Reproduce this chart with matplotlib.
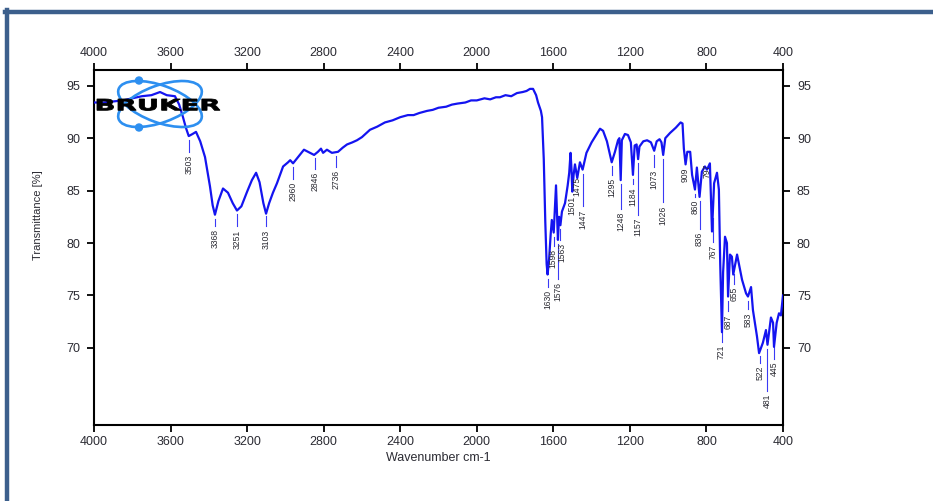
import matplotlib

matplotlib.use("Agg")
import matplotlib.pyplot as plt
import numpy as np
from matplotlib.font_manager import FontProperties
from matplotlib.lines import Line2D
from matplotlib.patches import Ellipse, PathPatch, Circle
from matplotlib.textpath import TextPath
from matplotlib.transforms import Affine2D

# spectrum (wavenumber cm-1, transmittance %)
wavenumber = [
    4000, 3950, 3900, 3850, 3800, 3750, 3700, 3655, 3620, 3577, 3555, 3535,
    3520, 3505, 3485, 3467, 3445, 3420, 3394, 3380, 3368, 3350, 3326, 3300,
    3275, 3253, 3230, 3200, 3175, 3153, 3135, 3115, 3101, 3085, 3065, 3044,
    3012, 2986, 2975, 2960, 2934, 2903, 2882, 2850, 2830, 2814, 2803, 2783,
    2757, 2725, 2700, 2678, 2650, 2626, 2600, 2558, 2520, 2480, 2440, 2400,
    2360, 2330, 2300, 2260, 2230, 2200, 2160, 2130, 2100, 2060, 2030, 2000,
    1960, 1930, 1900, 1879, 1850, 1820, 1790, 1760, 1740, 1722, 1706, 1690,
    1680, 1665, 1659, 1650, 1642, 1635, 1630, 1622, 1614, 1608, 1598, 1590,
    1586, 1580, 1576, 1570, 1563, 1555, 1539, 1525, 1517, 1510, 1505, 1501,
    1494, 1487, 1475, 1461, 1447, 1427, 1400, 1370, 1356, 1340, 1320, 1305,
    1295, 1278, 1262, 1255, 1248, 1242, 1226, 1210, 1195, 1184, 1175, 1165,
    1157, 1150, 1130, 1110, 1090, 1073, 1060, 1045, 1035, 1026, 1015, 990,
    960, 935, 925, 918, 909, 900, 885, 875, 860, 850, 836, 824, 808, 797,
    782, 771, 760, 745, 735, 728, 719, 713, 703, 693, 687, 677, 667, 660,
    640, 614, 593, 583, 567, 557, 536, 525, 505, 489, 481, 463, 452, 447,
    433, 421, 411, 400,
]
transmittance = [
    93.4, 93.4, 93.5, 93.6, 93.8, 94.0, 94.1, 94.4, 94.1, 94.0, 93.2, 92.0,
    91.0, 90.2, 90.4, 90.6, 89.7, 88.2, 85.4, 83.6, 82.7, 84.0, 85.2, 84.8,
    83.8, 83.1, 83.5, 84.9, 86.0, 86.7, 85.8, 83.8, 82.8, 83.8, 84.8, 85.7,
    87.3, 87.7, 87.9, 87.6, 88.2, 88.9, 88.7, 88.4, 88.7, 89.0, 88.6, 88.9,
    88.6, 88.7, 89.1, 89.4, 89.6, 89.8, 90.1, 90.8, 91.1, 91.5, 91.7, 92.0,
    92.2, 92.2, 92.4, 92.6, 92.7, 92.9, 93.0, 93.2, 93.3, 93.4, 93.6, 93.6,
    93.8, 93.7, 93.9, 93.9, 94.1, 94.0, 94.3, 94.4, 94.5, 94.7, 94.7, 94.1,
    93.4, 92.6, 92.0, 88.0, 82.0, 78.0, 77.0, 78.5, 80.8, 82.2, 81.0, 84.0,
    85.5, 82.5, 80.3, 82.5, 81.7, 83.0, 83.8, 85.5, 86.7, 88.6, 87.0, 84.9,
    86.5, 87.5, 86.2, 87.7, 87.0, 88.6, 89.6, 90.5, 90.9, 90.7, 89.7, 88.5,
    87.7, 88.7, 89.8, 90.0, 86.0, 89.8, 90.4, 90.3, 89.6, 86.5, 89.3, 89.4,
    88.0, 89.2, 89.7, 89.8, 89.6, 88.8, 89.7, 89.9, 89.6, 88.4, 90.0, 90.5,
    91.0, 91.5, 91.4, 89.0, 87.5, 88.7, 88.7, 86.5, 85.1, 87.2, 84.4, 86.8,
    87.3, 87.0, 87.6, 81.1, 85.7, 86.7, 85.1, 78.0, 71.5, 77.2, 80.6, 80.0,
    74.9, 78.9, 78.7, 77.0, 78.9, 76.5, 75.2, 74.9, 75.8, 73.6, 71.1, 69.5,
    70.5, 71.7, 70.3, 72.9, 72.4, 70.1, 72.4, 73.3, 73.1, 75.0,
]

# picked peaks
peak_wn = [
    3503, 3368, 3251, 3103, 2960, 2846, 2736, 1630, 1598, 1576, 1563, 1501,
    1475, 1447, 1295, 1248, 1184, 1157, 1073, 1026, 909, 860, 836, 797, 767,
    721, 687, 655, 583, 522, 481, 445,
]
# where each peak label starts (top of text), in % units - layout only
label_top = [
    88.4, 81.3, 81.3, 81.3, 85.8, 86.8, 87.0, 75.5, 79.4, 76.3, 80.0, 84.5,
    86.3, 83.2, 86.2, 83.0, 85.3, 82.4, 87.0, 83.6, 87.2, 84.1, 81.1, 87.6,
    79.8, 70.3, 73.2, 75.8, 73.4, 68.3, 65.6, 68.7,
]
# labels pushed sideways so the crowded ones stay readable (cm-1)
label_nudge = {1598: 6, 1563: -6}

W, H = 933, 501
FONT = ["Liberation Sans Narrow", "Liberation Sans", "DejaVu Sans"]
TEXT_COLOR = "#2b2b33"


def draw_logo(fig):
    # two crossing orbits and the BRUKER wordmark, drawn in pixel units
    to_fig = Affine2D().scale(1 / W, 1 / H) + fig.transFigure
    cx, cy = 160, H - 104
    blue = "#2d8ff0"
    for angle in (20, -20):
        fig.patches.append(
            Ellipse((cx, cy), 88, 37, angle=angle, fill=False,
                    edgecolor=blue, linewidth=1.9, transform=to_fig, zorder=5)
        )
    for dy in (23.5, -23.5):
        fig.patches.append(
            Circle((139, cy + dy), 3.5, color=blue, transform=to_fig, zorder=6)
        )

    tp = TextPath((0, 0), "BRUKER", size=1,
                  prop=FontProperties(family="DejaVu Sans", weight="heavy"))
    bb = tp.get_extents()
    sx = (220 - 97) / bb.width
    sy = 11.5 / bb.height
    word = (Affine2D().translate(-bb.x0, -bb.y0).scale(sx, sy)
            .translate(97, H - 110.5))
    fig.patches.append(
        PathPatch(tp, facecolor="black", edgecolor="black", linewidth=0.6,
                  transform=word + to_fig, zorder=7)
    )


def draw_frame(fig):
    color = "#3c5f8c"
    fig.add_artist(Line2D([5 / W, 1], [1 - 12 / H, 1 - 12 / H],
                          color=color, linewidth=3.2, transform=fig.transFigure))
    fig.add_artist(Line2D([7 / W, 7 / W], [0, 1 - 10 / H],
                          color=color, linewidth=3.2, transform=fig.transFigure))


def main():
    plt.rcParams["font.family"] = FONT
    fig = plt.figure(figsize=(W / 100, H / 100), dpi=100)
    ax = fig.add_axes([94 / W, 1 - 425 / H, (783 - 94) / W, (425 - 70) / H])

    ax.plot(wavenumber, transmittance, color="#1414f0", linewidth=1.6, zorder=3)

    # peak markers: short line under the curve and the rotated label
    px_per_unit = 10.48
    for wn, top in zip(peak_wn, label_top):
        curve_t = np.interp(wn, wavenumber[::-1], transmittance[::-1])
        start = curve_t - 4 / px_per_unit
        end = top + 3 / px_per_unit
        if start > end:
            ax.plot([wn, wn], [start, end], color="#3a3af5", linewidth=0.8,
                    zorder=2)
        ax.text(wn + label_nudge.get(wn, 0), top, str(wn), rotation=90,
                ha="center", va="top", fontsize=6.2, color=TEXT_COLOR)

    ax.set_xlim(4000, 400)
    ax.set_ylim(62.65, 96.5)
    ax.set_xticks(np.arange(4000, 399, -400))
    ax.set_yticks([70, 75, 80, 85, 90, 95])

    for side in ax.spines.values():
        side.set_linewidth(1.5)
    ax.tick_params(axis="both", which="both", direction="out", length=5,
                   width=1.3, labelsize=9, labelcolor=TEXT_COLOR,
                   top=True, labeltop=True, right=True, labelright=True)
    ax.tick_params(axis="y", pad=5)
    ax.tick_params(axis="x", pad=3)

    ax.set_xlabel("Wavenumber cm-1", fontsize=9, color=TEXT_COLOR, labelpad=3)
    fig.text(38 / W, 1 - 215 / H, "Transmittance [%]", rotation=90,
             ha="center", va="center", fontsize=8, color=TEXT_COLOR)

    draw_frame(fig)
    draw_logo(fig)

    fig.savefig("out.png", dpi=100)


if __name__ == "__main__":
    main()
